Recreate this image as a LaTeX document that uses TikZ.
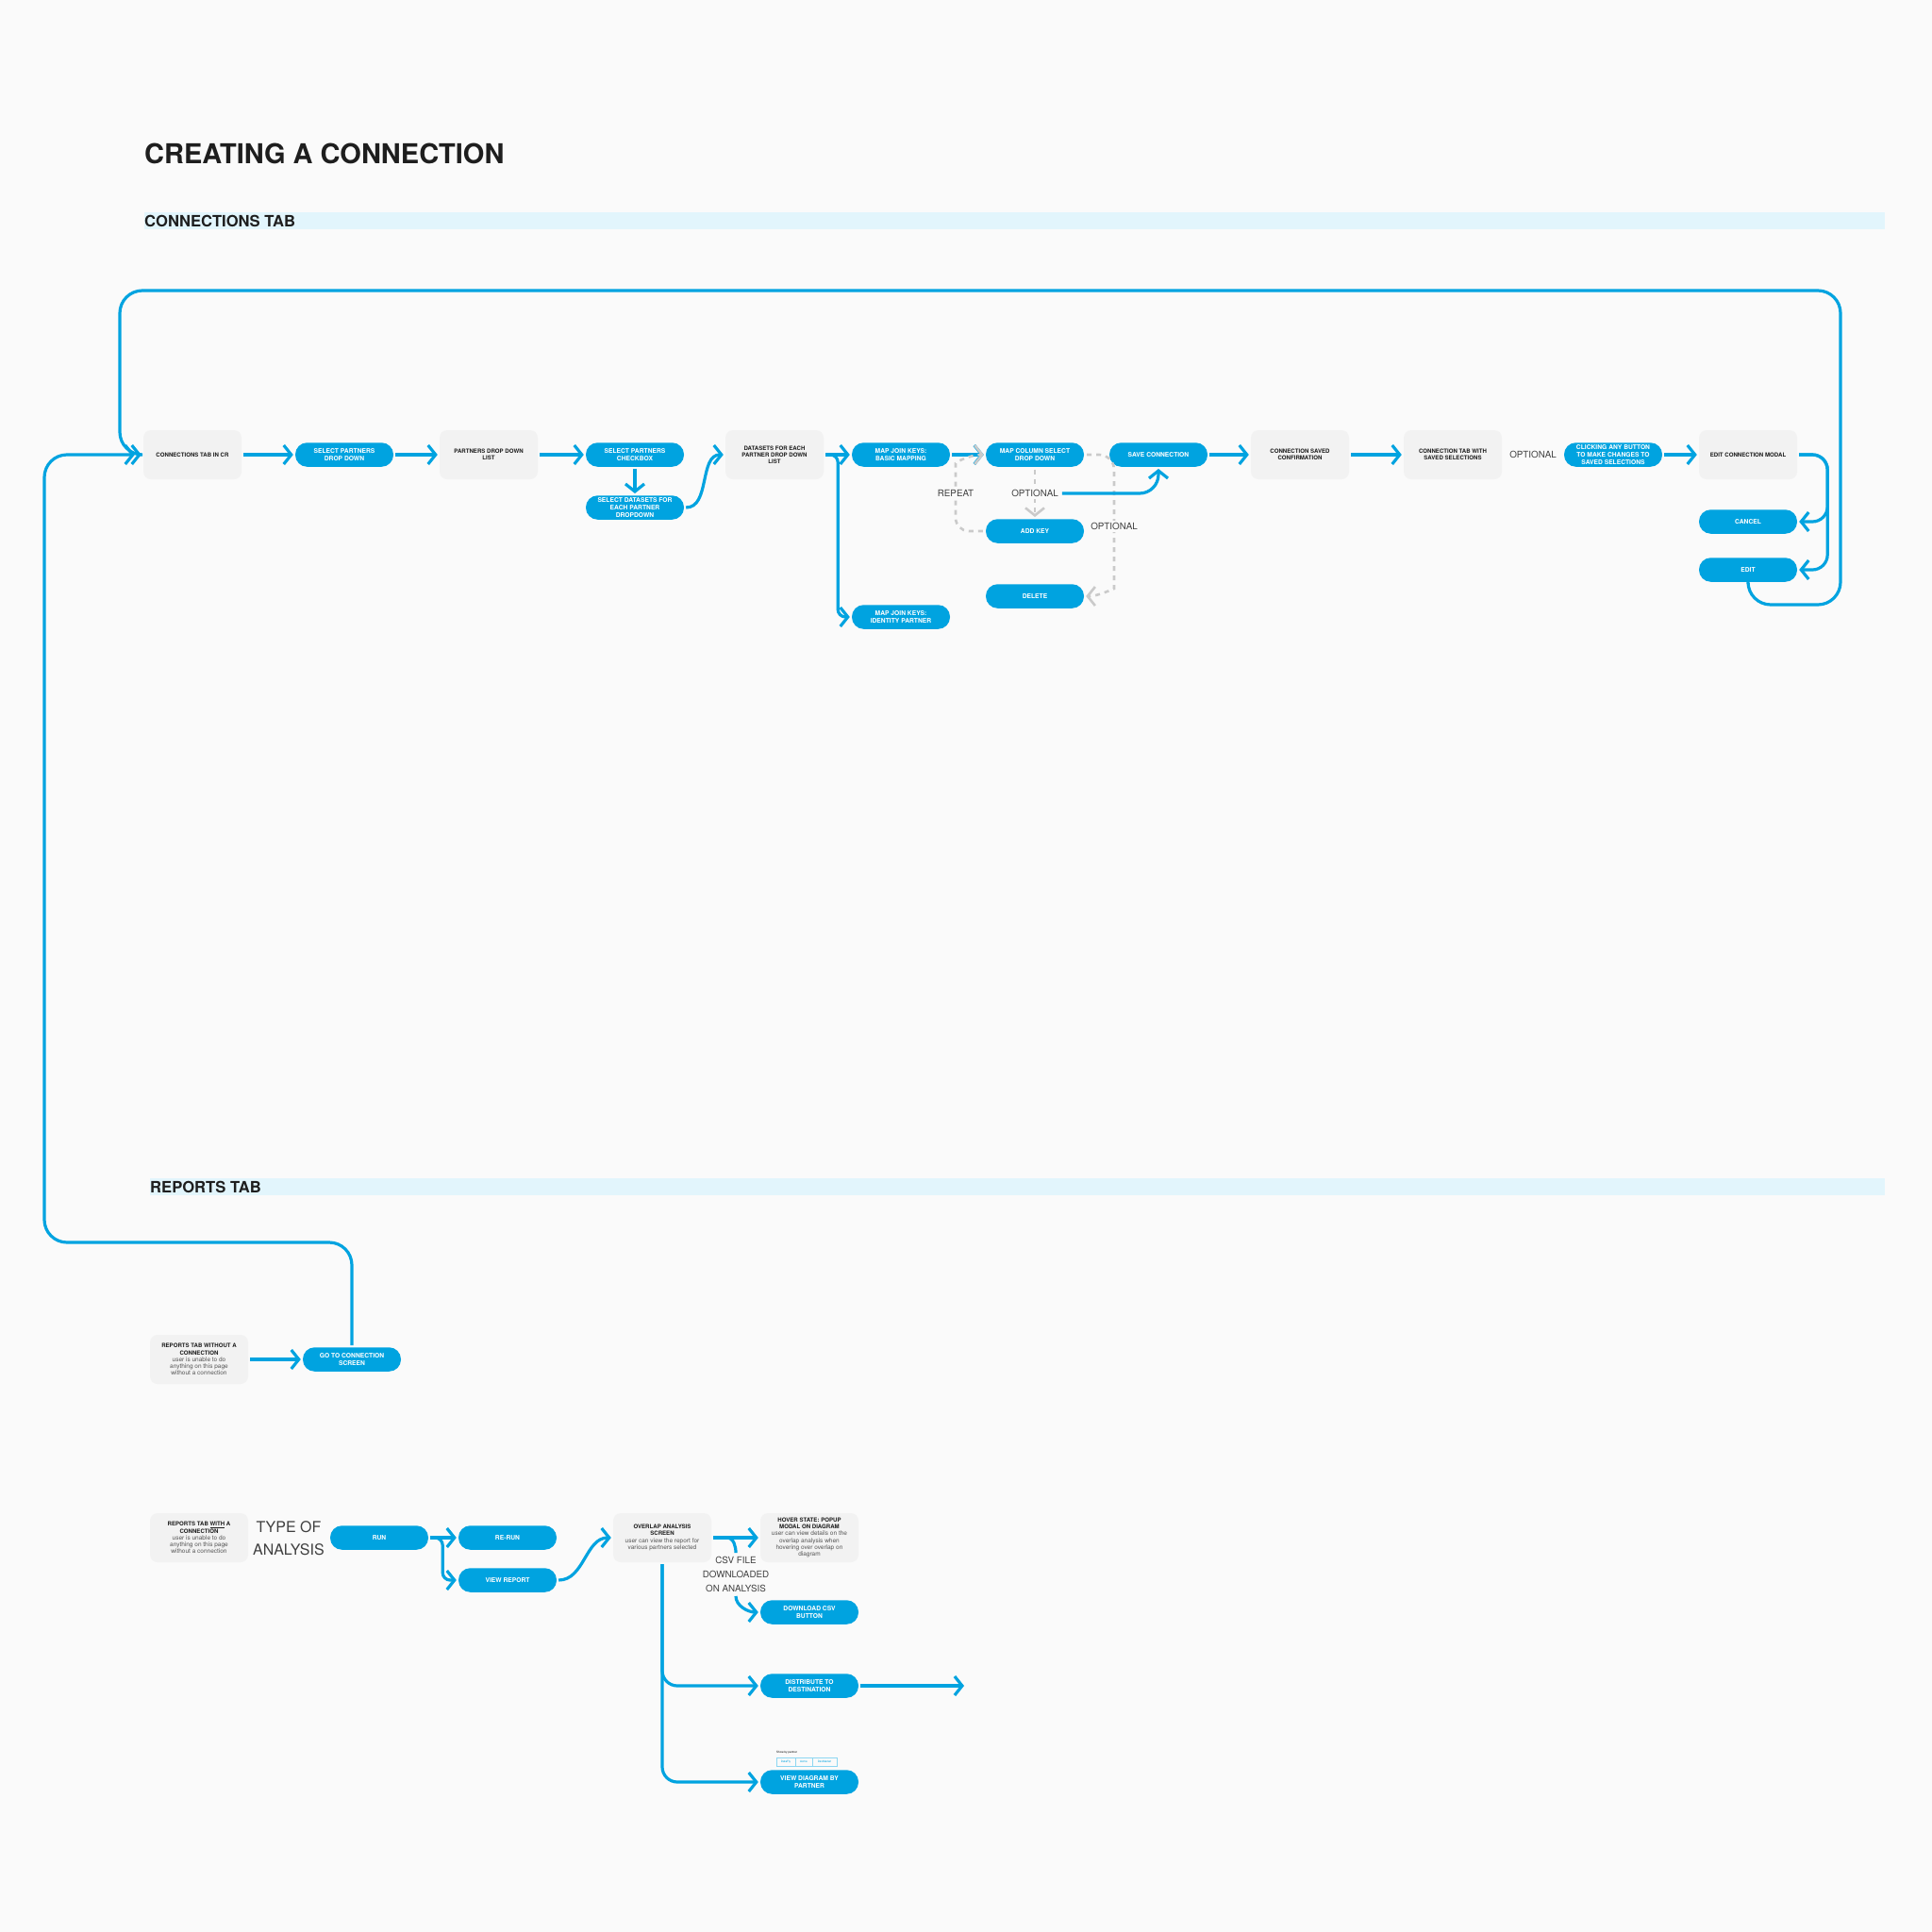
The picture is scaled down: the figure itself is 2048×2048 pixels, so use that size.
\documentclass[tikz,border=0pt]{standalone}
\usepackage{fontspec}
\setmainfont{TeX Gyre Heros}
\usepackage{tikz}
\usetikzlibrary{arrows.meta}
\definecolor{crblue}{HTML}{00A3E0}
\definecolor{crbox}{HTML}{F2F2F2}
\definecolor{crbg}{HTML}{FAFAFA}
\definecolor{crband}{HTML}{E2F5FC}
\definecolor{crdash}{HTML}{CACACA}
\definecolor{crink}{HTML}{1E1E1E}
\definecolor{crsub}{HTML}{555555}
\newcommand{\subline}{\fontsize{6.5}{7.2}\selectfont\mdseries\color{crsub}}

\begin{document}
\begin{tikzpicture}[x=1pt,y=-1pt,
  box/.style={fill=crbox,rounded corners=8pt,minimum width=104pt,minimum height=52pt,align=center,inner sep=1pt,text=crink,font=\fontsize{6.1}{7.2}\selectfont\bfseries},
  pill/.style={fill=crblue,rounded corners=12.5pt,minimum width=104pt,minimum height=25.5pt,align=center,inner sep=1pt,text=white,font=\fontsize{6.7}{7.8}\selectfont\bfseries},
  note/.style={fill=crbg,inner sep=2pt,align=center,text=crink!85,font=\fontsize{9.8}{15}\selectfont},
  flow/.style={draw=crblue,line width=3.2pt,-{Straight Barb[length=8pt,width=20pt]},shorten <=2pt,shorten >=2pt},
  link/.style={draw=crblue,line width=3.2pt,shorten <=2pt,shorten >=2pt},
  greydash/.style={draw=crdash,line width=2.6pt,dash pattern=on 5pt off 5pt,-{Straight Barb[length=8pt,width=20pt]},shorten <=3pt,shorten >=2pt},
  chip/.style={draw=crblue!45,line width=0.5pt,minimum height=9pt,inner sep=0pt,text=crblue,font=\fontsize{3}{3}\selectfont}]
  \fill[crbg] (0,0) rectangle (2048,2048);
  \useasboundingbox (0,0) rectangle (2048,2048);
  \node[anchor=west,inner sep=0pt,text=crink,font=\fontsize{29}{30}\selectfont\bfseries] (T0) at (153,163) {CREATING A CONNECTION};
  \fill[crband] (153,225) rectangle (1998,243);
  \node[anchor=west,inner sep=0pt,text=crink,font=\fontsize{16.6}{16}\selectfont\bfseries] (H1) at (153,234) {CONNECTIONS TAB};
  \fill[crband] (159,1249) rectangle (1998,1267);
  \node[anchor=west,inner sep=0pt,text=crink,font=\fontsize{16.6}{16}\selectfont\bfseries] (H2) at (159,1258) {REPORTS TAB};

  \node[box] (A1) at (204,482) {CONNECTIONS TAB IN CR};
  \node[pill] (A2) at (365,482) {SELECT PARTNERS\\DROP DOWN};
  \node[box] (A3) at (518,482) {PARTNERS DROP DOWN\\LIST};
  \node[pill] (A4) at (673,482) {SELECT PARTNERS\\CHECKBOX};
  \node[pill] (A5) at (673,538) {SELECT DATASETS FOR\\EACH PARTNER\\DROPDOWN};
  \node[box] (A6) at (821,482) {DATASETS FOR EACH\\PARTNER DROP DOWN\\LIST};
  \node[pill] (A7) at (955,482) {MAP JOIN KEYS:\\BASIC MAPPING};
  \node[pill] (A8) at (955,654) {MAP JOIN KEYS:\\IDENTITY PARTNER};
  \node[pill] (A9) at (1097,482) {MAP COLUMN SELECT\\DROP DOWN};
  \node[pill] (A10) at (1097,563) {ADD KEY};
  \node[pill] (A11) at (1097,632) {DELETE};
  \node[pill] (A12) at (1228,482) {SAVE CONNECTION};
  \node[box] (A13) at (1378,482) {CONNECTION SAVED\\CONFIRMATION};
  \node[box] (A14) at (1540,482) {CONNECTION TAB WITH\\SAVED SELECTIONS};
  \node[pill] (A15) at (1710,482) {CLICKING ANY BUTTON\\TO MAKE CHANGES TO\\SAVED SELECTIONS};
  \node[box] (A16) at (1853,482) {EDIT CONNECTION MODAL};
  \node[pill] (A17) at (1853,553) {CANCEL};
  \node[pill] (A18) at (1853,604) {EDIT};
  \node[note,fill=none] (L4) at (1625,482) {OPTIONAL};

  \draw[flow] (A1.east) -- (A2.west); \draw[flow] (A2.east) -- (A3.west);
  \draw[flow] (A3.east) -- (A4.west); \draw[flow] (A4.south) -- (A5.north);
  \draw[flow] (A5.east) to[out=0,in=180] (A6.west);
  \draw[flow] (A6.east) -- (A7.west);
  \draw[flow,rounded corners=8pt] (A6.east) -- ++(15,0) |- (A8.west);
  \draw[flow] (A7.east) -- (A9.west);
  \coordinate (rp) at (1013,505); \draw[greydash,rounded corners=14pt] (A10.west) -| (rp) to[out=90,in=180] (A9.west);
  \draw[greydash] (A9.south) -- (A10.north);
  \coordinate (dc) at (1181,608); \draw[greydash,rounded corners=16pt] (A9.east) -| (dc) to[out=-90,in=0] (A11.east);
  \node[note] (L1) at (1013,523) {REPEAT};
  \node[note] (L2) at (1097,523) {OPTIONAL};
  \node[note] (L3) at (1181,558) {OPTIONAL};
  \draw[flow,rounded corners=20pt] (L2.east) -| (A12.south);
  \draw[flow] (A12.east) -- (A13.west); \draw[flow] (A13.east) -- (A14.west);
  \draw[flow] (A15.east) -- (A16.west);
  \draw[flow,rounded corners=16pt] (A16.east) -- ++(32,0) |- (A17.east);
  \draw[flow,rounded corners=16pt] (A16.east) -- ++(32,0) |- (A18.east);
  \coordinate (c2) at (1951,641); \coordinate (c3) at (127,308);
  \draw[flow,rounded corners=24pt] (A18.south) |- (c2) |- (c3) |- (A1.west);

  \node[box] (R1) at (211,1441) {REPORTS TAB WITHOUT A\\CONNECTION\\\subline user is unable to do\\\subline anything on this page\\\subline without a connection};
  \node[pill] (R2) at (373,1441) {GO TO CONNECTION\\SCREEN};
  \draw[flow] (R1.east) -- (R2.west);
  \coordinate (c1) at (47,1317); \draw[flow,rounded corners=24pt,shorten >=9pt] (R2.north) |- (c1) |- (A1.west);

  \node[box] (R3) at (211,1630) {REPORTS TAB \underline{WITH} A\\CONNECTION\\\subline user is unable to do\\\subline anything on this page\\\subline without a connection};
  \node[note,fill=none,font=\fontsize{16}{24}\selectfont] (R4) at (306,1631) {TYPE OF\\ANALYSIS};
  \node[pill] (R5) at (402,1630) {RUN};
  \node[pill] (R6) at (538,1630) {RE-RUN};
  \node[pill] (R7) at (538,1675) {VIEW REPORT};
  \node[box] (R8) at (702,1630) {OVERLAP ANALYSIS\\SCREEN\\\subline user can view the report for\\\subline various partners selected};
  \node[box] (R9) at (858,1630) {HOVER STATE: POPUP\\MODAL ON DIAGRAM\\\subline user can view details on the\\\subline overlap analysis when\\\subline hovering over overlap on\\\subline diagram};
  \node[note,fill=none] (L5) at (780,1669) {CSV FILE\\DOWNLOADED\\ON ANALYSIS};
  \node[pill] (R10) at (858,1709) {DOWNLOAD CSV\\BUTTON};
  \node[pill] (R11) at (858,1787) {DISTRIBUTE TO\\DESTINATION};
  \node[pill] (R12) at (858,1889) {VIEW DIAGRAM BY\\PARTNER};
  \node[anchor=west,inner sep=0pt,font=\fontsize{3}{3}\selectfont] (W0) at (823,1858) {Show by partner};
  \node[chip,minimum width=20pt] (W1) at (833,1867.5) {DataFly};
  \node[chip,minimum width=18pt] (W2) at (852,1867.5) {Acme};
  \node[chip,minimum width=26pt] (W3) at (874,1867.5) {DevMarket};

  \draw[flow] (R5.east) -- (R6.west);
  \draw[flow,rounded corners=8pt] (R5.east) -- ++(15,0) |- (R7.west);
  \draw[flow] (R7.east) to[out=0,in=180] (R8.west);
  \draw[flow] (R8.east) -- (R9.west);
  \draw[link] (R8.east) -- ++(16,0) to[out=0,in=90] (L5.north);
  \draw[flow] (L5.south) to[out=-90,in=180] (R10.west);
  \draw[flow,rounded corners=16pt] (R8.south) |- (R11.west);
  \draw[flow,rounded corners=16pt] (R8.south) |- (R12.west);
  \coordinate (e1) at (1024,1787); \draw[flow] (R11.east) -- (e1);
\end{tikzpicture}
\end{document}
